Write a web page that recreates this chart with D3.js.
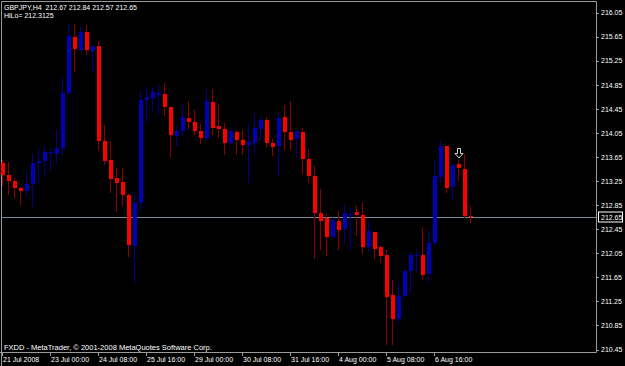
<!DOCTYPE html>
<html>
<head>
<meta charset="utf-8">
<script src="https://cdn.jsdelivr.net/npm/d3@7"></script>
<style>
    html, body { margin: 0; padding: 0; background: #000; }
    svg { display: block; }
    .lbl { font-family: "Liberation Sans", Arial, sans-serif; font-size: 7px; fill: #fff; }
</style>
</head>
<body>
<svg id="chart"></svg>
<script>
// GBPJPY H4 candles
var opens = [213.55,213.35,213.25,213.14,213.09,213.21,213.55,213.58,213.72,213.70,
    213.81,214.71,215.65,215.44,215.74,215.42,215.50,213.92,213.60,213.30,
    213.24,213.02,212.17,212.89,214.60,214.63,214.68,214.70,214.48,214.01,
    214.09,214.30,214.23,214.08,213.97,214.57,214.17,214.12,213.89,214.07,
    213.94,213.86,213.88,214.12,214.27,213.88,213.83,214.31,214.07,213.95,
    214.07,213.62,213.33,212.72,212.63,212.33,212.59,212.46,212.69,212.73,
    212.69,212.16,212.41,212.16,212.02,211.35,210.96,211.34,211.75,212.01,
    212.02,211.71,212.22,213.32,213.84,213.15,213.53,213.46,212.67];
var highs = [213.60,213.57,213.31,213.16,213.41,213.71,213.81,213.84,213.81,214.10,
    214.98,215.87,215.87,215.82,215.85,215.50,215.59,214.18,213.92,213.47,
    213.47,213.05,213.05,214.75,214.82,214.82,214.86,214.88,214.48,214.17,
    214.52,214.58,214.43,214.20,214.79,214.79,214.54,214.21,214.16,214.10,
    214.11,214.18,214.38,214.34,214.32,213.96,214.38,214.51,214.58,214.08,
    214.13,213.78,213.50,213.12,212.72,212.66,212.75,212.85,212.80,212.83,
    212.89,212.59,212.41,212.19,212.11,211.61,211.55,211.80,212.08,212.12,
    212.48,212.45,213.61,213.92,213.84,213.55,213.61,213.71,212.84];
var lows = [213.18,213.04,212.98,212.85,213.01,212.83,213.24,213.34,213.43,213.56,
    213.70,214.70,215.09,215.44,215.37,215.10,213.77,213.53,213.07,212.76,
    212.85,212.01,211.56,212.78,214.25,214.42,214.38,214.35,213.67,213.85,
    214.02,214.14,214.04,213.89,213.94,214.03,213.98,213.71,213.87,213.71,
    213.71,213.24,213.72,213.96,213.82,213.69,213.36,213.78,213.78,213.66,
    213.39,213.24,211.98,212.12,212.03,212.30,212.12,212.22,212.13,212.36,
    212.06,212.09,211.97,211.91,210.54,210.54,210.91,211.33,211.40,211.75,
    211.62,211.57,212.21,213.24,213.07,212.94,213.27,212.65,212.57];
var closes = [213.35,213.25,213.14,213.09,213.20,213.55,213.58,213.74,213.74,213.81,
    214.72,215.67,215.45,215.74,215.44,215.50,213.92,213.58,213.28,213.22,
    213.02,212.19,212.89,214.60,214.65,214.74,214.71,214.48,214.02,214.09,
    214.32,214.23,214.08,213.97,214.58,214.14,214.12,213.89,214.09,213.94,
    213.86,213.90,214.13,214.27,213.89,213.82,214.30,214.07,213.94,214.08,
    213.62,213.33,212.72,212.59,212.32,212.61,212.44,212.72,212.71,212.68,
    212.16,212.42,212.13,212.01,211.33,210.95,211.34,211.76,212.02,212.03,
    211.69,212.22,213.33,213.83,213.14,213.52,213.47,212.67,212.65];

var timeLabels = ["21 Jul 2008", "23 Jul 00:00", "24 Jul 08:00", "25 Jul 16:00", "29 Jul 00:00",
    "30 Jul 08:00", "31 Jul 16:00", "4 Aug 00:00", "5 Aug 08:00", "6 Aug 16:00"];
var timeLabelBars = [0, 8, 16, 24, 32, 40, 48, 56, 64, 72];
var priceTicks = [216.05, 215.65, 215.25, 214.85, 214.45, 214.05, 213.65, 213.25,
    212.85, 212.45, 212.05, 211.65, 211.25, 210.85, 210.45];

var symbol = "GBPJPY,H4";
var lastBar = [212.67, 212.84, 212.57, 212.65];
var hiLo = "212.3125";
var bid = 212.65;
var arrowBar = 76;

var wtot = 625, htot = 366;
var plotRight = 596, plotTop = 1, plotBottom = 352;

var svg = d3.select("#chart")
    .attr("width", wtot)
    .attr("height", htot);

svg.append("rect")
    .attr("width", wtot)
    .attr("height", htot)
    .attr("fill", "#000");

var n = opens.length;
var x = d3.scaleBand()
    .domain(d3.range(n))
    .range([0, 6 * n])
    .paddingInner(1 / 3)
    .paddingOuter(1 / 6);

var y = d3.scaleLinear()
    .domain([210.409, 216.231])
    .range([352, 2]);

var bars = d3.range(n).map(i => ({
    i: i, o: opens[i], h: highs[i], l: lows[i], c: closes[i], up: closes[i] >= opens[i]
}));

// frame
svg.append("path")
    .attr("d", `M1.5,${htot}V${plotTop + 0.5}H${plotRight + 0.5}V${plotBottom + 0.5}H0`)
    .attr("fill", "none")
    .attr("stroke", "#9a9a9a")
    .attr("stroke-width", 1);

// bid line
var bidY = Math.round(y(bid)) + 0.5;
svg.append("line")
    .attr("x1", 2).attr("x2", plotRight)
    .attr("y1", bidY).attr("y2", bidY)
    .attr("stroke", "#778899");

// wicks
svg.append("g")
    .selectAll("line")
    .data(bars)
    .join("line")
    .attr("x1", d => x(d.i) + 1.5)
    .attr("x2", d => x(d.i) + 1.5)
    .attr("y1", d => Math.round(y(d.h)))
    .attr("y2", d => Math.round(y(d.l)) + 1)
    .attr("stroke", d => d.up ? "#000088" : "#8b0000")
    .attr("stroke-width", 1);

// bodies
svg.append("g")
    .selectAll("rect")
    .data(bars)
    .join("rect")
    .attr("x", d => x(d.i))
    .attr("width", x.bandwidth())
    .attr("y", d => Math.round(y(Math.max(d.o, d.c))))
    .attr("height", d => Math.max(1, Math.round(y(Math.min(d.o, d.c))) - Math.round(y(Math.max(d.o, d.c)))))
    .attr("fill", d => d.up ? "#0000b8" : "#ff0000");

// arrow above bar
var ax = x(arrowBar) + 2, ay = Math.round(y(highs[arrowBar])) - 11.5;
svg.append("path")
    .attr("d", `M${ax - 1.5},${ay}h3v5h2.5l-4,4.5l-4,-4.5h2.5z`)
    .attr("fill", "none")
    .attr("stroke", "#d8d8d8")
    .attr("stroke-width", 1);

// price axis
var yAxis = svg.append("g").attr("class", "lbl");
yAxis.selectAll("line")
    .data(priceTicks)
    .join("line")
    .attr("x1", plotRight).attr("x2", plotRight + 3)
    .attr("y1", d => Math.round(y(d)) + 0.5)
    .attr("y2", d => Math.round(y(d)) + 0.5)
    .attr("stroke", "#9a9a9a");
yAxis.selectAll("text")
    .data(priceTicks)
    .join("text")
    .attr("x", plotRight + 5)
    .attr("y", d => y(d) + 2.5)
    .text(d => d.toFixed(2));

// current price tag
svg.append("rect")
    .attr("x", 598.5).attr("y", bidY - 5.5)
    .attr("width", 24).attr("height", 10)
    .attr("fill", "#000")
    .attr("stroke", "#fff");
svg.append("text")
    .attr("class", "lbl")
    .attr("x", plotRight + 5)
    .attr("y", bidY + 2.5)
    .text(bid.toFixed(2));

// time axis
var xAxis = svg.append("g").attr("class", "lbl");
xAxis.selectAll("line")
    .data(timeLabelBars)
    .join("line")
    .attr("x1", d => x(d) + 1.5).attr("x2", d => x(d) + 1.5)
    .attr("y1", plotBottom).attr("y2", plotBottom + 4)
    .attr("stroke", "#9a9a9a");
xAxis.selectAll("text")
    .data(timeLabelBars)
    .join("text")
    .attr("x", d => x(d) + 2)
    .attr("y", 362)
    .text((d, i) => timeLabels[i]);

// texts
svg.append("text")
    .attr("class", "lbl")
    .attr("x", 4).attr("y", 9.5)
    .attr("xml:space", "preserve")
    .text(symbol + "  " + lastBar.map(v => v.toFixed(2)).join(" "));
svg.append("text")
    .attr("class", "lbl")
    .attr("x", 4).attr("y", 17.5)
    .text("HiLo= " + hiLo);
svg.append("text")
    .attr("class", "lbl")
    .attr("x", 4).attr("y", 349.5)
    .style("font-size", "7.5px")
    .text("FXDD - MetaTrader, \u00a9 2001-2008 MetaQuotes Software Corp.");
</script>
</body>
</html>
